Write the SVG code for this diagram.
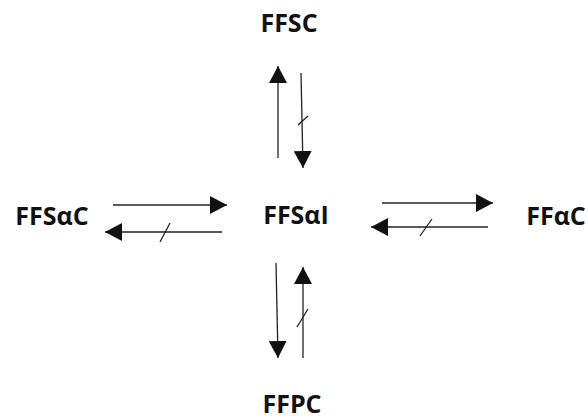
<svg xmlns="http://www.w3.org/2000/svg" width="588" height="420" viewBox="0 0 588 420">
<style>
.lbl{font-family:"Open Sans","Noto Sans","Liberation Sans",sans-serif;font-weight:bold;font-size:25px;fill:#111;text-anchor:middle}
.ln{stroke:#222;stroke-width:1.3;fill:none}
.ar{marker-end:url(#head)}
</style>
<defs>
<marker id="head" markerUnits="userSpaceOnUse" markerWidth="18" markerHeight="18" viewBox="0 0 18 18" refX="17" refY="9" orient="auto">
<path d="M0,0 L17,9 L0,18 Z" fill="#111"/>
</marker>
</defs>
<rect width="588" height="420" fill="#fff"/>
<g id="node-ffsc"><text class="lbl" x="289" y="32">FFSC</text></g>
<g id="node-ffsac"><text class="lbl" x="52" y="225">FFSαC</text></g>
<g id="node-ffsai"><text class="lbl" x="296" y="224">FFSαI</text></g>
<g id="node-ffac"><text class="lbl" x="556" y="225">FFαC</text></g>
<g id="node-ffpc"><text class="lbl" x="292" y="413">FFPC</text></g>
<g id="connectors">
<line class="ln ar" x1="278" y1="158" x2="278" y2="66"/>
<line class="ln ar" x1="301" y1="73" x2="303" y2="168"/>
<line class="ln" x1="298" y1="125" x2="308" y2="116"/>
<line class="ln ar" x1="113" y1="205" x2="227" y2="205"/>
<line class="ln ar" x1="222" y1="232" x2="105" y2="232"/>
<line class="ln" x1="160" y1="242" x2="170" y2="223"/>
<line class="ln ar" x1="382" y1="203" x2="493" y2="203"/>
<line class="ln ar" x1="488" y1="227" x2="371" y2="227"/>
<line class="ln" x1="420" y1="236" x2="432" y2="219"/>
<line class="ln ar" x1="276" y1="263" x2="278" y2="358"/>
<line class="ln ar" x1="303" y1="358" x2="303" y2="267"/>
<line class="ln" x1="297" y1="327" x2="308" y2="309"/>
</g>
</svg>
